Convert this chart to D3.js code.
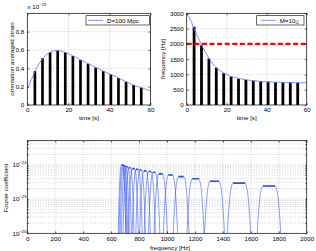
<!DOCTYPE html>
<meta charset="utf-8">
<style>
body { margin: 0; background: #fff; }
svg { font-family: "Liberation Sans", Arial, sans-serif; }
.grid line { stroke: #b0b0b0; stroke-width: 0.6; stroke-dasharray: 1,1.6; }
.tick text { font-size: 6.2px; fill: #000; }
.lbl { font-size: 6.2px; fill: #000; }
</style>
<body>
<svg width="316" height="251" id="chart"></svg>
<script src="https://d3js.org/d3.v7.min.js"></script>
<script>

// top left: orientation averaged strain (x 1e-23) vs time
var strainT = [0, 2, 4, 6, 8, 10, 12, 14, 16, 18, 20, 24, 28, 32, 36, 40, 44, 48, 52, 56, 60];
var strainV = [0.18, 0.28, 0.38, 0.46, 0.52, 0.56, 0.585, 0.595, 0.59, 0.578, 0.56, 0.515, 0.47, 0.425, 0.38, 0.34, 0.3, 0.255, 0.215, 0.185, 0.155];
var barT = [3.7, 7.4, 11.1, 14.8, 18.5, 22.2, 25.9, 29.6, 33.3, 37.0, 40.7, 44.4, 48.1, 51.8, 55.5];
var strainBars = [0.37, 0.51, 0.575, 0.593, 0.575, 0.535, 0.49, 0.45, 0.41, 0.37, 0.335, 0.295, 0.255, 0.218, 0.19];

// top right: frequency vs time
var freqT = [0, 2, 4, 6, 8, 10, 12, 14, 16, 18, 20, 24, 28, 32, 36, 40, 44, 48, 52, 56, 60];
var freqV = [3000, 2770, 2450, 2170, 1900, 1650, 1440, 1270, 1160, 1070, 1000, 900, 845, 805, 778, 760, 748, 740, 735, 731, 728];
var freqBars = [2560, 1950, 1520, 1220, 1040, 930, 860, 820, 795, 775, 760, 748, 740, 735, 731];
var cutoff = 2000;

// bottom: Fourier coefficient bands (Hz) and plateau level
var bandLo = [1687, 1473, 1308, 1181, 1082, 1010, 942, 900, 868, 834, 805, 778, 750, 727, 710, 698, 688, 680, 674];
var bandHi = [1773, 1558, 1372, 1227, 1120, 1040, 968, 916, 886, 851, 817, 795, 768, 738, 720, 706, 696, 688, 682];
var bandAmp = [2.4e-25, 2.9e-25, 3.3e-25, 3.9e-25, 4.5e-25, 5.0e-25, 5.4e-25, 6.0e-25, 6.3e-25, 6.6e-25, 7.0e-25, 7.3e-25, 7.7e-25, 8.2e-25, 8.7e-25, 9.0e-25, 9.4e-25, 9.7e-25, 1.0e-24];
var bandSide = [52, 50, 47, 45, 43, 41, 39, 37, 35, 33, 31, 30, 29, 28, 27, 26, 25, 25, 25];
// fall-off of a band edge: [fraction of side width, decades below plateau]
var sideProfile = [[0, 0], [0.2, 0.08], [0.4, 0.3], [0.6, 0.75], [0.8, 1.4], [1, 2.3]];

var svg = d3.select("svg");
var lineBlue = "#7085f6";

function drawBox(g, x, y) {
    var r = x.range(), h = y.range();
    g.append("rect")
        .attr("x", r[0]).attr("y", h[1])
        .attr("width", r[1] - r[0]).attr("height", h[0] - h[1])
        .attr("fill", "none").attr("stroke", "#000").attr("stroke-width", 0.7);
}

function styleAxis(sel) {
    sel.select(".domain").remove();
    sel.selectAll(".tick line").attr("stroke", "#000").attr("stroke-width", 0.6);
}

function panel(x, y, xTicks, yTicks, yFmt) {
    var g = svg.append("g");
    var r = x.range(), h = y.range();
    var grid = g.append("g").attr("class", "grid");
    grid.selectAll(".gx").data(xTicks.slice(1, -1)).enter().append("line")
        .attr("x1", d => x(d)).attr("x2", d => x(d)).attr("y1", h[0]).attr("y2", h[1]);
    grid.selectAll(".gy").data(yTicks.slice(1, -1)).enter().append("line")
        .attr("y1", d => y(d)).attr("y2", d => y(d)).attr("x1", r[0]).attr("x2", r[1]);
    return g;
}

function axes(g, x, y, xTicks, yTicks, yFmt) {
    var r = x.range(), h = y.range();
    g.append("g").attr("transform", "translate(0," + h[0] + ")")
        .call(d3.axisBottom(x).tickValues(xTicks).tickSize(-2).tickPadding(3).tickFormat(d3.format("d")))
        .call(styleAxis);
    g.append("g").attr("transform", "translate(0," + h[1] + ")")
        .call(d3.axisTop(x).tickValues(xTicks).tickSize(-2).tickFormat(""))
        .call(styleAxis);
    g.append("g").attr("transform", "translate(" + r[0] + ",0)")
        .call(d3.axisLeft(y).tickValues(yTicks).tickSize(-2).tickPadding(3).tickFormat(yFmt))
        .call(styleAxis);
    g.append("g").attr("transform", "translate(" + r[1] + ",0)")
        .call(d3.axisRight(y).tickValues(yTicks).tickSize(-2).tickFormat(""))
        .call(styleAxis);
    g.selectAll(".tick text").attr("font-family", null).attr("font-size", null);
    drawBox(g, x, y);
}

function legend(g, x0, x1, y0, y1, label, sub) {
    g.append("rect").attr("x", x0).attr("y", y0).attr("width", x1 - x0).attr("height", y1 - y0)
        .attr("fill", "#fff").attr("stroke", "#000").attr("stroke-width", 0.6);
    var my = (y0 + y1) / 2;
    var lx = sub ? x0 + 4 : x0 + 2;
    g.append("line").attr("x1", lx).attr("x2", lx + 15).attr("y1", my).attr("y2", my)
        .attr("stroke", lineBlue).attr("stroke-width", 0.9);
    var t = g.append("text").attr("class", "lbl").attr("x", lx + 19).attr("y", my + 2.2).text(label);
    if (sub) t.append("tspan").attr("font-size", "4.5px").attr("dy", 1.5).text(sub);
}

// ---------- top left ----------
var x1 = d3.scaleLinear().domain([0, 60]).range([27.3, 150.5]);
var y1 = d3.scaleLinear().domain([0, 1]).range([105, 13.3]);
var xt1 = [0, 20, 40, 60];
var yt1 = [0, 0.2, 0.4, 0.6, 0.8, 1.0];
var g1 = panel(x1, y1, xt1, yt1);
g1.selectAll(".bar").data(barT).enter().append("rect")
    .attr("x", d => x1(d - 0.65)).attr("width", x1(1.3) - x1(0))
    .attr("y", (d, i) => y1(strainBars[i])).attr("height", (d, i) => y1(0) - y1(strainBars[i]))
    .attr("fill", "#000");
g1.append("path").datum(strainT)
    .attr("d", d3.line().x(d => x1(d)).y((d, i) => y1(strainV[i])).curve(d3.curveMonotoneX))
    .attr("fill", "none").attr("stroke", lineBlue).attr("stroke-width", 0.9);
axes(g1, x1, y1, xt1, yt1.slice(0, -1), d => d === 0 ? "0" : d3.format(".1f")(d));
legend(g1, 86, 149.5, 15.7, 25, "D=100 Mpc");
var ex = g1.append("text").attr("class", "lbl").attr("x", 27.5).attr("y", 8.5).attr("font-size", "5.5px").text("x 10");
ex.append("tspan").attr("font-size", "4.2px").attr("dy", -2.5).text("\u221223");
g1.append("text").attr("class", "lbl").attr("x", 88.9).attr("y", 119.5).attr("text-anchor", "middle").text("time [s]");
g1.append("text").attr("class", "lbl").attr("transform", "translate(13.5,59) rotate(-90)")
    .attr("text-anchor", "middle").text("orientation averaged strain");

// ---------- top right ----------
var x2 = d3.scaleLinear().domain([0, 60]).range([186.7, 306.7]);
var y2 = d3.scaleLinear().domain([0, 3000]).range([105, 13.3]);
var xt2 = [0, 20, 40, 60];
var yt2 = [0, 500, 1000, 1500, 2000, 2500, 3000];
var g2 = panel(x2, y2, xt2, yt2);
g2.selectAll(".bar").data(barT).enter().append("rect")
    .attr("x", d => x2(d - 0.7)).attr("width", x2(1.4) - x2(0))
    .attr("y", (d, i) => y2(freqBars[i])).attr("height", (d, i) => y2(0) - y2(freqBars[i]))
    .attr("fill", "#000");
g2.append("path").datum(freqT)
    .attr("d", d3.line().x(d => x2(d)).y((d, i) => y2(freqV[i])).curve(d3.curveMonotoneX))
    .attr("fill", "none").attr("stroke", lineBlue).attr("stroke-width", 0.9);
g2.append("line").attr("x1", x2(0)).attr("x2", x2(60)).attr("y1", y2(cutoff)).attr("y2", y2(cutoff))
    .attr("stroke", "#ff0000").attr("stroke-width", 2.2).attr("stroke-dasharray", "5,2.6");
axes(g2, x2, y2, xt2, yt2, d3.format("d"));
legend(g2, 256.7, 304, 15.7, 25, "M=10", "\u2609");
g2.append("text").attr("class", "lbl").attr("x", 246.7).attr("y", 119.5).attr("text-anchor", "middle").text("time [s]");
g2.append("text").attr("class", "lbl").attr("transform", "translate(164.5,59) rotate(-90)")
    .attr("text-anchor", "middle").text("frequency [Hz]");

// ---------- bottom ----------
var x3 = d3.scaleLinear().domain([0, 2000]).range([27.3, 306.7]);
var y3 = d3.scaleLog().domain([1e-26, 5e-24]).range([233.3, 140.7]);
var xt3 = d3.range(0, 2001, 200);
var minor = [];
[1e-26, 1e-25, 1e-24].forEach(function(dec) {
    for (var k = 1; k <= 9; k++) if (dec * k <= 5e-24) minor.push(dec * k);
});
var g3 = svg.append("g");
var grid3 = g3.append("g").attr("class", "grid");
grid3.selectAll(".gx").data(xt3.slice(1, -1)).enter().append("line")
    .attr("x1", d => x3(d)).attr("x2", d => x3(d)).attr("y1", 233.3).attr("y2", 140.7);
grid3.selectAll(".gy").data(minor.slice(1)).enter().append("line")
    .attr("y1", d => y3(d)).attr("y2", d => y3(d)).attr("x1", 27.3).attr("x2", 306.7);

svg.append("defs").append("clipPath").attr("id", "clip3").append("rect")
    .attr("x", 27.3).attr("y", 140.7).attr("width", 279.4).attr("height", 92.6);
var traces = g3.append("g").attr("clip-path", "url(#clip3)");
var bandLine = d3.line().x(d => x3(d[0])).y(d => y3(d[1]));
bandLo.forEach(function(lo, i) {
    var hi = bandHi[i], a = bandAmp[i], s = bandSide[i];
    var pts = sideProfile.slice().reverse().map(p => [lo - p[0] * s, a / Math.pow(10, p[1])]);
    pts = pts.concat(sideProfile.map(p => [hi + p[0] * s, a / Math.pow(10, p[1])]));
    traces.append("path").attr("d", bandLine.curve(d3.curveMonotoneX)(pts))
        .attr("fill", "none").attr("stroke", "#2f4df5").attr("stroke-width", 0.65).attr("stroke-opacity", 0.85);
    traces.append("path").attr("d", bandLine.curve(d3.curveLinear)([[lo, a], [hi, a]]))
        .attr("fill", "none").attr("stroke", "#2f4df5").attr("stroke-width", 1.6);
});

g3.append("g").attr("transform", "translate(0,233.3)")
    .call(d3.axisBottom(x3).tickValues(xt3).tickSize(-2).tickPadding(3).tickFormat(d3.format("d")))
    .call(styleAxis);
g3.append("g").attr("transform", "translate(0,140.7)")
    .call(d3.axisTop(x3).tickValues(xt3).tickSize(-2).tickFormat(""))
    .call(styleAxis);
g3.append("g").attr("transform", "translate(27.3,0)")
    .call(d3.axisLeft(y3).tickValues(minor).tickSize(-1.5).tickFormat(""))
    .call(styleAxis);
g3.append("g").attr("transform", "translate(306.7,0)")
    .call(d3.axisRight(y3).tickValues(minor).tickSize(-1.5).tickFormat(""))
    .call(styleAxis);
g3.selectAll(".tick text").attr("font-family", null).attr("font-size", null);
[1e-26, 1e-25, 1e-24].forEach(function(d) {
    var t = g3.append("text").attr("class", "lbl").attr("x", 12.5).attr("y", y3(d) + 2.2).text("10");
    t.append("tspan").attr("font-size", "4.2px").attr("dy", -2.8).text("\u2212" + Math.round(-Math.log10(d)));
});
drawBox(g3, x3, y3);
g3.append("text").attr("class", "lbl").attr("x", 170).attr("y", 249.5).attr("text-anchor", "middle").text("frequency [Hz]");
g3.append("text").attr("class", "lbl").attr("transform", "translate(7.5,188) rotate(-90)")
    .attr("text-anchor", "middle").text("Fourier coefficient");

</script>
</body>
